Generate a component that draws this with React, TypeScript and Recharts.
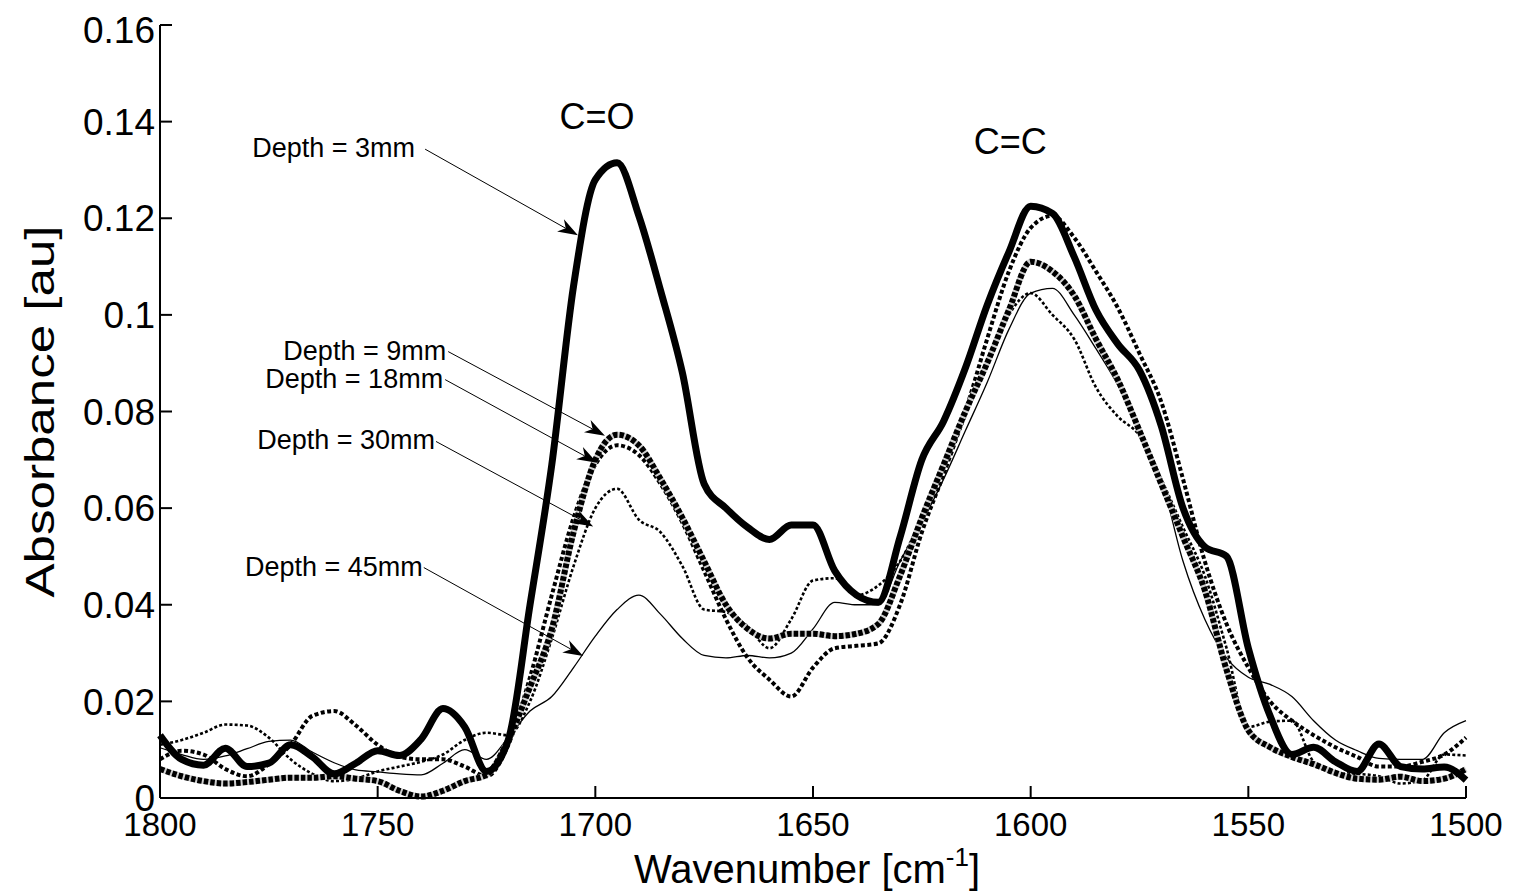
import React from 'react'
import { LineChart, Line, XAxis, YAxis, ReferenceLine, ReferenceDot } from 'recharts'

const FONT = '"Liberation Sans", Arial, Helvetica, sans-serif'

// wavenumber grid (cm^-1), high to low like the figure
const wavenumbers = [
  1800, 1795, 1790, 1785, 1780, 1775, 1770, 1765, 1760, 1755, 1750, 1745, 1740, 1735, 1730, 1725,
  1720, 1715, 1710, 1705, 1700, 1695, 1690, 1685, 1680, 1675, 1670, 1665, 1660, 1655, 1650, 1645,
  1640, 1635, 1630, 1625, 1620, 1615, 1610, 1605, 1600, 1595, 1590, 1585, 1580, 1575, 1570, 1565,
  1560, 1555, 1550, 1545, 1540, 1535, 1530, 1525, 1520, 1515, 1510, 1505, 1500,
]

const depth3 = [
  0.013, 0.008, 0.0068, 0.0103, 0.0065, 0.0072, 0.011, 0.0085, 0.005, 0.0072, 0.0098, 0.0088, 0.0122, 0.0185, 0.0147, 0.0055,
  0.012, 0.04, 0.069, 0.106, 0.128, 0.1315, 0.1205, 0.105, 0.088, 0.065, 0.06, 0.056, 0.0535, 0.0565, 0.0565, 0.047,
  0.042, 0.0405, 0.054, 0.07, 0.078, 0.089, 0.102, 0.113, 0.1225, 0.121, 0.112, 0.101, 0.094, 0.0885, 0.077, 0.06,
  0.052, 0.05, 0.031, 0.017, 0.009, 0.0105, 0.0075, 0.0055, 0.0112, 0.0065, 0.006, 0.0064, 0.0037,
]

const depth9 = [
  0.006, 0.0045, 0.0035, 0.003, 0.0033, 0.0038, 0.0042, 0.0042, 0.0045, 0.004, 0.0035, 0.0015, 0.0003, 0.0015, 0.0035, 0.0048,
  0.012, 0.023, 0.035, 0.055, 0.07, 0.0752, 0.073, 0.066, 0.058, 0.049, 0.04, 0.035, 0.033, 0.034, 0.034, 0.0335,
  0.034, 0.036, 0.046, 0.058, 0.069, 0.08, 0.09, 0.101, 0.111, 0.109, 0.104, 0.095, 0.0866, 0.076, 0.065, 0.054,
  0.043, 0.0265, 0.014, 0.0105, 0.0085, 0.007, 0.0052, 0.004, 0.0038, 0.0044, 0.0035, 0.004, 0.006,
]

const depth18 = [
  0.008, 0.0098, 0.009, 0.006, 0.0045, 0.007, 0.011, 0.017, 0.018, 0.015, 0.011, 0.0085, 0.008, 0.008, 0.0065, 0.0045,
  0.011, 0.025, 0.042, 0.058, 0.069, 0.073, 0.071, 0.065, 0.057, 0.047, 0.037, 0.029, 0.0245, 0.021, 0.027, 0.031,
  0.0315, 0.032, 0.04, 0.055, 0.067, 0.08, 0.095, 0.109, 0.118, 0.1205, 0.116, 0.109, 0.1015, 0.092, 0.082, 0.066,
  0.049, 0.036, 0.027, 0.02, 0.016, 0.013, 0.0105, 0.0085, 0.0065, 0.0065, 0.0075, 0.009, 0.0125,
]

const depth30 = [
  0.011, 0.012, 0.0135, 0.0152, 0.015, 0.0125, 0.008, 0.005, 0.0035, 0.004, 0.0055, 0.0065, 0.0075, 0.009, 0.012, 0.0135,
  0.013, 0.02, 0.033, 0.048, 0.06, 0.064, 0.0576, 0.055, 0.048, 0.039, 0.0385, 0.0355, 0.031, 0.037, 0.045, 0.0455,
  0.042, 0.044, 0.049, 0.058, 0.068, 0.079, 0.09, 0.1, 0.1045, 0.1, 0.095, 0.085, 0.079, 0.075, 0.066, 0.056,
  0.046, 0.031, 0.0147, 0.0158, 0.016, 0.0075, 0.0052, 0.005, 0.0045, 0.003, 0.0037, 0.009, 0.0088,
]

const depth45 = [
  0.0104, 0.009, 0.008, 0.0087, 0.0102, 0.0117, 0.012, 0.0095, 0.0073, 0.0058, 0.0054, 0.005, 0.0048, 0.0072, 0.01, 0.008,
  0.0125, 0.018, 0.021, 0.027, 0.0335, 0.039, 0.042, 0.038, 0.033, 0.0295, 0.029, 0.0295, 0.029, 0.03, 0.035, 0.0405,
  0.04, 0.04, 0.049, 0.057, 0.066, 0.076, 0.086, 0.097, 0.1045, 0.1055, 0.1, 0.093, 0.0855, 0.076, 0.066, 0.049,
  0.037, 0.029, 0.025, 0.0235, 0.021, 0.016, 0.012, 0.0098, 0.0082, 0.008, 0.008, 0.0135, 0.016,
]

const xTicks = [1500, 1550, 1600, 1650, 1700, 1750, 1800]
const yTicks = [0, 0.02, 0.04, 0.06, 0.08, 0.1, 0.12, 0.14, 0.16]

// label text, arrow start (w, a), arrow tip (w, a), gap between text and arrow
const arrowNotes: { label: string; from: [number, number]; to: [number, number]; gap: number }[] = [
  { label: 'Depth = 3mm', from: [1739.1, 0.1343], to: [1704.0, 0.1165], gap: 10 },
  { label: 'Depth = 9mm', from: [1733.8, 0.0924], to: [1697.8, 0.075], gap: 2 },
  { label: 'Depth = 18mm', from: [1734.5, 0.0866], to: [1699.6, 0.0694], gap: 2 },
  { label: 'Depth = 30mm', from: [1736.6, 0.0738], to: [1700.5, 0.0562], gap: 1 },
  { label: 'Depth = 45mm', from: [1739.4, 0.0477], to: [1702.8, 0.0294], gap: 1 },
]

const bandNotes: { label: string; w: number; a: number }[] = [
  { label: 'C=O', w: 1699.6, a: 0.1384 },
  { label: 'C=C', w: 1604.7, a: 0.1333 },
]

const data = wavenumbers.map((w, i) => ({
  w,
  d3: depth3[i],
  d9: depth9[i],
  d18: depth18[i],
  d30: depth30[i],
  d45: depth45[i],
}))

const arrowShape = (label: string, gap: number) => (props: any) => {
  const { x1, y1, x2, y2 } = props
  const ang = Math.atan2(y2 - y1, x2 - x1)
  const c = Math.cos(ang)
  const s = Math.sin(ang)
  const len = 20
  const half = 7
  const bx = x2 - len * c
  const by = y2 - len * s
  const nx = x2 - len * 0.7 * c
  const ny = y2 - len * 0.7 * s
  const pts = [
    [x2, y2],
    [bx - half * s, by + half * c],
    [nx, ny],
    [bx + half * s, by - half * c],
  ]
    .map((p) => p.join(','))
    .join(' ')
  return (
    <g>
      <text x={x1 - gap} y={y1 - 1} textAnchor="end" dominantBaseline="central" fontSize={27} fontFamily={FONT} fill="#000">
        {label}
      </text>
      <line x1={x1} y1={y1} x2={nx} y2={ny} stroke="#000" strokeWidth={1} />
      <polygon points={pts} fill="#000" />
    </g>
  )
}

const bandShape = (label: string) => (props: any) => (
  <text x={props.cx} y={props.cy} textAnchor="middle" fontSize={36} fontFamily={FONT} fill="#000">
    {label}
  </text>
)

const XTitle = (props: any) => {
  const { x, y, width } = props.viewBox
  return (
    <text x={x + width / 2 - 6} y={y + 85} textAnchor="middle" fontSize={40} fontFamily={FONT} fill="#000">
      Wavenumber [cm
      <tspan fontSize={26} dy={-17}>-1</tspan>
      <tspan dy={17}>]</tspan>
    </text>
  )
}

const YTitle = (props: any) => {
  const { x, y, height } = props.viewBox
  const cx = x - 40
  const cy = y + height / 2
  return (
    <text
      x={cx}
      y={cy}
      transform={`rotate(-90 ${cx} ${cy})`}
      textAnchor="middle"
      dominantBaseline="central"
      fontSize={41}
      textLength={372}
      lengthAdjust="spacingAndGlyphs"
      fontFamily={FONT}
      fill="#000"
    >
      Absorbance [au]
    </text>
  )
}

const axisLine = { stroke: '#000', strokeWidth: 2 }
const tickLine = { stroke: '#000', strokeWidth: 2 }
const xTickText = { fill: '#000', fontSize: 33, fontFamily: FONT }
const yTickText = { fill: '#000', fontSize: 37, fontFamily: FONT }

export default function App() {
  return (
    <div style={{ width: 1500, height: 886, background: '#fff', fontFamily: FONT }}>
      <LineChart width={1500} height={886} data={data} margin={{ top: 17, right: 42, left: 72, bottom: 36 }}>
        <XAxis
          dataKey="w"
          type="number"
          domain={[1500, 1800]}
          reversed
          ticks={xTicks}
          height={60}
          axisLine={axisLine}
          tickLine={tickLine}
          tickSize={-12}
          tickMargin={27}
          tick={xTickText}
          label={{ content: XTitle }}
        />
        <XAxis
          xAxisId="top"
          orientation="top"
          dataKey="w"
          type="number"
          domain={[1500, 1800]}
          reversed
          ticks={xTicks}
          height={0}
          axisLine={axisLine}
          tickLine={tickLine}
          tickSize={-12}
          tickFormatter={() => ''}
        />
        <YAxis
          type="number"
          domain={[0, 0.16]}
          ticks={yTicks}
          width={80}
          axisLine={axisLine}
          tickLine={tickLine}
          tickSize={-12}
          tickMargin={17}
          tick={yTickText}
          label={{ content: YTitle }}
        />
        <YAxis
          yAxisId="right"
          orientation="right"
          type="number"
          domain={[0, 0.16]}
          ticks={yTicks}
          width={0}
          axisLine={axisLine}
          tickLine={tickLine}
          tickSize={-12}
          tickFormatter={() => ''}
        />

        <Line dataKey="d45" type="monotone" stroke="#000" strokeWidth={1.3} dot={false} activeDot={false} isAnimationActive={false} />
        <Line dataKey="d30" type="monotone" stroke="#000" strokeWidth={2.6} strokeDasharray="3 2.2" dot={false} activeDot={false} isAnimationActive={false} />
        <Line dataKey="d18" type="monotone" stroke="#000" strokeWidth={4} strokeDasharray="4 2.5" dot={false} activeDot={false} isAnimationActive={false} />
        <Line dataKey="d9" type="monotone" stroke="#cfcfcf" strokeWidth={6} dot={false} activeDot={false} isAnimationActive={false} />
        <Line dataKey="d9" type="monotone" stroke="#000" strokeWidth={6} strokeDasharray="4.5 2" dot={false} activeDot={false} isAnimationActive={false} />
        <Line dataKey="d3" type="monotone" stroke="#000" strokeWidth={7} dot={false} activeDot={false} isAnimationActive={false} />

        {arrowNotes.map((n) => (
          <ReferenceLine
            key={n.label}
            segment={[
              { x: n.from[0], y: n.from[1] },
              { x: n.to[0], y: n.to[1] },
            ]}
            shape={arrowShape(n.label, n.gap)}
          />
        ))}
        {bandNotes.map((n) => (
          <ReferenceDot key={n.label} x={n.w} y={n.a} r={0} shape={bandShape(n.label)} />
        ))}
      </LineChart>
    </div>
  )
}
